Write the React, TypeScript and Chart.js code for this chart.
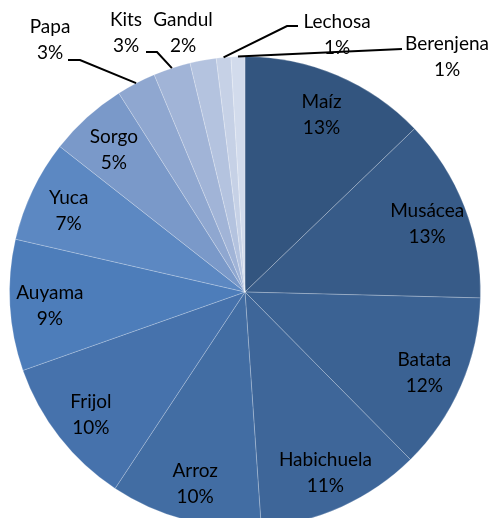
import React, { useEffect, useRef } from "react";
import { Chart, registerables } from "chart.js";

Chart.register(...registerables);

const categories = [
  "Maíz", "Musácea", "Batata", "Habichuela", "Arroz", "Frijol", "Auyama",
  "Yuca", "Sorgo", "Papa", "Kits", "Gandul", "Lechosa", "Berenjena",
];
const values = [12.8, 12.6, 12.2, 11.3, 10.4, 10.3, 9.0, 7.0, 5.4, 2.7, 2.55, 1.8, 1.0, 0.95];
const colors = [
  "#33557F", "#375B88", "#3B6293", "#3E6699", "#426DA3", "#4672AC", "#4D7DBA",
  "#5C88C2", "#7A99C9", "#8FA7D0", "#A1B4D7", "#B4C3DF", "#C6D1E6", "#D2DBEC",
];

const FONT = "19px Lato, 'Open Sans', sans-serif";
const LINE_GAP = 13;

// Layout of the labels that sit outside the pie (index -> label centre and leader path)
const outsideLayout: Record<number, { label: [number, number]; path: [number, number][] }> = {
  9: { label: [50, 40], path: [[80, 60], [68, 60]] },
  10: { label: [126, 33], path: [[157, 52], [146, 52]] },
  11: { label: [183, 33], path: [] },
  12: { label: [337, 35], path: [[287, 26], [298, 26]] },
  13: { label: [447, 57], path: [[402, 49]] },
};

const labelPlugin = {
  id: "pieLabels",
  afterDatasetsDraw(chart: any) {
    const ctx = chart.ctx as CanvasRenderingContext2D;
    const meta = chart.getDatasetMeta(0);
    const data = chart.data.datasets[0].data as number[];
    const total = data.reduce((a, b) => a + b, 0);
    ctx.save();
    ctx.font = FONT;
    ctx.fillStyle = "#000000";
    ctx.textAlign = "center";
    ctx.textBaseline = "middle";
    meta.data.forEach((arc: any, i: number) => {
      const { x, y, startAngle, endAngle, outerRadius } = arc.getProps(
        ["x", "y", "startAngle", "endAngle", "outerRadius"], true
      );
      const mid = (startAngle + endAngle) / 2;
      const pct = Math.round((data[i] / total) * 100) + "%";
      const name = chart.data.labels[i];
      const out = outsideLayout[i];
      if (!out) {
        const r = outerRadius * 0.83;
        const cx = x + Math.cos(mid) * r;
        const cy = y + Math.sin(mid) * r + 3;
        ctx.fillText(name, cx, cy - LINE_GAP);
        ctx.fillText(pct, cx, cy + LINE_GAP);
      } else {
        if (out.path.length) {
          ctx.beginPath();
          ctx.strokeStyle = "#000000";
          ctx.lineWidth = 2;
          ctx.moveTo(x + Math.cos(mid) * outerRadius, y + Math.sin(mid) * outerRadius);
          out.path.forEach(([px, py]) => ctx.lineTo(px, py));
          ctx.stroke();
        }
        const [lx, ly] = out.label;
        ctx.fillText(name, lx, ly - LINE_GAP);
        ctx.fillText(pct, lx, ly + LINE_GAP);
      }
    });
    ctx.restore();
  },
};

export default function App() {
  const ref = useRef<HTMLCanvasElement | null>(null);
  useEffect(() => {
    if (!ref.current) return;
    const chart = new Chart(ref.current, {
      type: "pie",
      data: {
        labels: categories,
        datasets: [
          {
            data: values,
            backgroundColor: colors,
            borderColor: "rgba(255,255,255,0.22)",
            borderWidth: 1,
          },
        ],
      },
      options: {
        responsive: false,
        animation: false,
        devicePixelRatio: 1,
        layout: { padding: { left: 9, right: 12, top: 56, bottom: 12 } },
        plugins: {
          legend: { display: false },
          tooltip: { enabled: false },
        },
      },
      plugins: [labelPlugin],
    });
    return () => chart.destroy();
  }, []);
  return (
    <div
      style={{
        position: "absolute",
        left: 0,
        top: 0,
        width: 493,
        height: 518,
        overflow: "hidden",
        background: "#ffffff",
      }}
    >
      <canvas ref={ref} width={493} height={540} style={{ display: "block" }} />
    </div>
  );
}
